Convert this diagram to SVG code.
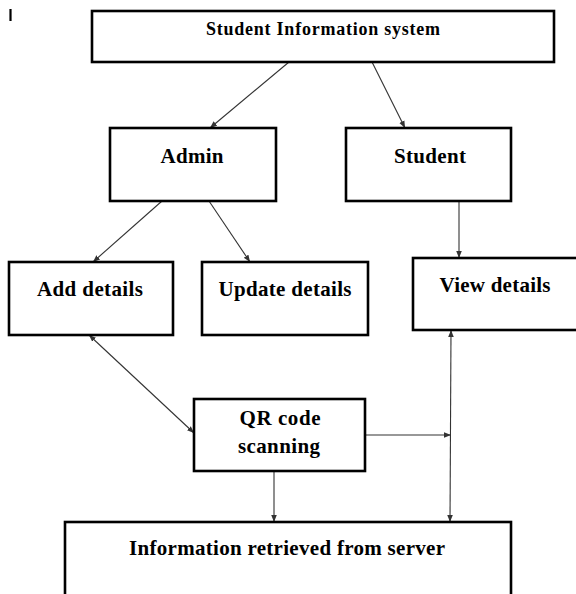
<svg xmlns="http://www.w3.org/2000/svg" width="576" height="594" viewBox="0 0 576 594">
<defs>
<style>
.box{fill:#fff;stroke:#000;stroke-width:2.6}
.lbl{font-family:"Liberation Serif","Times New Roman",serif;font-weight:bold;font-size:21px;fill:#000;text-anchor:middle}
.con{fill:none;stroke:#333;stroke-width:1.1}
</style>
<marker id="ah" viewBox="0 0 10 10" refX="10" refY="5" markerWidth="7" markerHeight="7" markerUnits="userSpaceOnUse" orient="auto-start-reverse">
<path d="M0,1 L10,5 L0,9 z" fill="#333"/>
</marker>
</defs>
<rect width="576" height="594" fill="#fff"/>
<line x1="10.5" y1="9" x2="10.5" y2="21" stroke="#000" stroke-width="2.2"/>

<g id="connectors">
<line class="con" x1="289" y1="62" x2="210" y2="128" marker-end="url(#ah)"/>
<line class="con" x1="372" y1="62" x2="405" y2="128" marker-end="url(#ah)"/>
<line class="con" x1="162" y1="201" x2="93" y2="262" marker-end="url(#ah)"/>
<line class="con" x1="209" y1="201" x2="250" y2="262" marker-end="url(#ah)"/>
<line class="con" x1="459" y1="201" x2="459" y2="258" marker-end="url(#ah)"/>
<line class="con" x1="89" y1="335" x2="194" y2="433" marker-start="url(#ah)" marker-end="url(#ah)"/>
<line class="con" x1="451" y1="330" x2="450" y2="522" marker-start="url(#ah)" marker-end="url(#ah)"/>
<line class="con" x1="365" y1="435" x2="451" y2="435" marker-end="url(#ah)"/>
<line class="con" x1="274" y1="471" x2="274" y2="522" marker-end="url(#ah)"/>
</g>

<g id="sis">
<rect class="box" x="92" y="11" width="462" height="51"/>
<text class="lbl" x="323" y="35" style="font-size:18px" textLength="234">Student Information system</text>
</g>
<g id="admin">
<rect class="box" x="110" y="128" width="166" height="73"/>
<text class="lbl" x="192" y="163" textLength="63">Admin</text>
</g>
<g id="student">
<rect class="box" x="346" y="128" width="165" height="73"/>
<text class="lbl" x="430" y="163" textLength="72">Student</text>
</g>
<g id="add-details">
<rect class="box" x="9" y="262" width="164" height="73"/>
<text class="lbl" x="90" y="296" textLength="106">Add details</text>
</g>
<g id="update-details">
<rect class="box" x="202" y="262" width="166" height="73"/>
<text class="lbl" x="285" y="296" textLength="133">Update details</text>
</g>
<g id="view-details">
<rect class="box" x="413" y="258" width="170" height="72"/>
<text class="lbl" x="495" y="292" textLength="111">View details</text>
</g>
<g id="qr">
<rect class="box" x="194" y="399" width="171" height="72"/>
<text class="lbl" x="280" y="425" textLength="81">QR code</text>
<text class="lbl" x="279" y="453" textLength="82">scanning</text>
</g>
<g id="info">
<rect class="box" x="65" y="522" width="446" height="80"/>
<text class="lbl" x="287" y="555" textLength="316">Information retrieved from server</text>
</g>
</svg>
